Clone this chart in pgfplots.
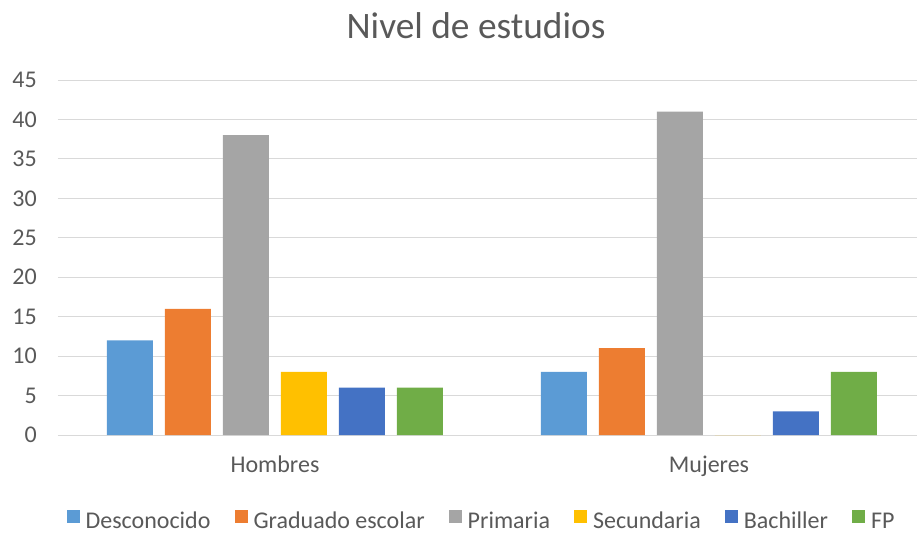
\documentclass[border=0pt]{standalone}
\usepackage{fontspec}
\setmainfont{Carlito}
\usepackage{pgfplots}
\pgfplotsset{compat=1.18}
\definecolor{cA}{HTML}{5B9BD5}
\definecolor{cB}{HTML}{ED7D31}
\definecolor{cC}{HTML}{A5A5A5}
\definecolor{cD}{HTML}{FFC000}
\definecolor{cE}{HTML}{4472C4}
\definecolor{cF}{HTML}{70AD47}
\definecolor{txt}{HTML}{595959}
\definecolor{gridc}{HTML}{D9D9D9}
\begin{document}
\begin{tikzpicture}
\useasboundingbox (-43.5pt,-73.5pt) rectangle (644.25pt,326.25pt);
\begin{axis}[
  at={(0,0)}, anchor=south west,
  scale only axis,
  width=644.25pt, height=266.25pt,
  xmin=-0.5, xmax=1.4793,
  ymin=0, ymax=45,
  ytick={0,5,...,45},
  xtick={0,1},
  xticklabels={Hombres,Mujeres},
  ybar=9pt, bar width=34.5pt,
  axis line style={draw=none},
  major tick length=0pt,
  xmajorgrids=false,
  ymajorgrids=true,
  grid style={draw=gridc, line width=0.75pt},
  /pgf/number format/assume math mode=true,
  tick label style={font=\fontsize{18}{21}\selectfont, text=txt},
  yticklabel style={anchor=east, inner sep=0pt, xshift=-15.75pt},
  xticklabel style={anchor=base, inner sep=0pt, yshift=-27.75pt},
  title={Nivel de estudios},
  title style={font=\fontsize{28}{32}\selectfont, text=txt, at={(0.4866,1.13)}, anchor=center, inner sep=0pt},
  legend columns=6,
  legend style={draw=none, fill=none, at={(0.4919,-0.24)}, anchor=center,
    font=\fontsize{18}{21}\selectfont, text=txt,
    nodes={inner sep=0pt},
    /tikz/every odd column/.append style={column sep=4.5pt},
    /tikz/every even column/.append style={column sep=18pt}},
  legend image code/.code={\fill[#1] (0pt,-0.75pt) rectangle (9.75pt,9pt);},
  clip=false,
]
\addplot[fill=cA, draw=none] coordinates {(0,12) (1,8)};
\addplot[fill=cB, draw=none] coordinates {(0,16) (1,11)};
\addplot[fill=cC, draw=none] coordinates {(0,38) (1,41)};
\addplot[fill=cD, draw=none] coordinates {(0,8) (1,0)};
\addplot[fill=cE, draw=none] coordinates {(0,6) (1,3)};
\addplot[fill=cF, draw=none] coordinates {(0,6) (1,8)};
\legend{Desconocido,Graduado escolar,Primaria,Secundaria,Bachiller,FP}
\end{axis}
\end{tikzpicture}
\end{document}
